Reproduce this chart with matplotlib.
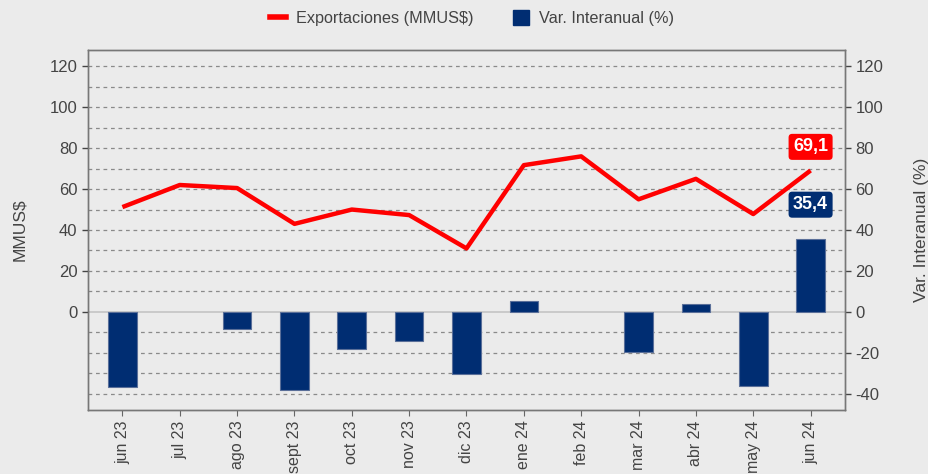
import numpy as np
import matplotlib
matplotlib.use("Agg")
from matplotlib import pyplot as plt
from matplotlib.lines import Line2D
from matplotlib.patches import Patch

months = ["jun 23", "jul 23", "ago 23", "sept 23", "oct 23", "nov 23", "dic 23",
          "ene 24", "feb 24", "mar 24", "abr 24", "may 24", "jun 24"]
exports = [51.2, 62.0, 60.5, 43.0, 50.0, 47.3, 31.0, 71.7, 76.0, 55.0, 65.0, 47.8, 69.1]
# jul 23 and feb 24 have no bar in the chart
var_yoy = [-36.6, np.nan, -8.3, -38.2, -18.0, -14.1, -30.6, 5.4, np.nan, -19.5, 4.0, -36.3, 35.4]

red = "#ff0000"
navy = "#002d72"
bg = "#ebebeb"
txt = "#444444"

plt.rcParams['font.family'] = ['Liberation Sans', 'DejaVu Sans']
plt.rcParams['axes.unicode_minus'] = False

fig = plt.figure(figsize=(9.29, 4.74), dpi=100, facecolor=bg)
ax_bar = fig.add_axes([88 / 929, 64 / 474, 757 / 929, 360 / 474])
ax_line = ax_bar.twinx()
ax_bar.set_facecolor(bg)

x = np.arange(len(months))
ylo, yhi = -48, 128

# bars on the right axis (behind)
ax_bar.bar(x, var_yoy, width=0.5, color=navy, edgecolor="#5a6f99", linewidth=0.8, zorder=3)
ax_bar.set_ylim(ylo, yhi)
ax_bar.set_xlim(-0.6, len(months) - 0.4)
for v in np.arange(-40, 130, 10):
    if v == 0:
        ax_bar.axhline(0, color="#c4c4c4", lw=1.2, zorder=2)
    else:
        ax_bar.axhline(v, color="#8a8a8a", lw=0.9, ls=(0, (3, 3)), zorder=1)

# line on the left axis (front)
ax_line.plot(x, exports, color=red, lw=3.2, zorder=4, solid_capstyle="butt")
ax_line.set_ylim(ylo, yhi)

ax_line.set_zorder(ax_bar.get_zorder() + 1)
ax_line.patch.set_visible(False)
ax_line.yaxis.tick_left()
ax_line.yaxis.set_label_position("left")
ax_bar.yaxis.tick_right()
ax_bar.yaxis.set_label_position("right")

ax_line.set_yticks(np.arange(0, 121, 20))
ax_bar.set_yticks(np.arange(-40, 121, 20))
ax_line.set_ylabel("MMUS$", color=txt, fontsize=12.5, labelpad=16)
ax_bar.set_ylabel("Var. Interanual (%)", color=txt, fontsize=12.5, labelpad=22)

ax_bar.set_xticks(x)
ax_bar.set_xticklabels(months, rotation=90, fontsize=11.5)

for a in (ax_bar, ax_line):
    a.tick_params(axis="y", colors=txt, labelsize=12, length=4, width=1)
    a.tick_params(axis="x", colors="#666666", length=4)
    for s in a.spines.values():
        s.set_color("#777777")
        s.set_linewidth(1)
for lbl in ax_bar.get_xticklabels():
    lbl.set_color(txt)

ax_line.annotate("69,1", (x[-1], exports[-1]), xytext=(0, 17), textcoords="offset points",
                 ha="center", va="center", color="white", fontsize=13, fontweight="bold",
                 bbox=dict(boxstyle="round,pad=0.25,rounding_size=0.2", fc=red, ec="none"), zorder=6)
ax_line.annotate("35,4", (x[-1], var_yoy[-1]), xytext=(0, 25), textcoords="offset points",
                 ha="center", va="center", color="white", fontsize=13, fontweight="bold",
                 bbox=dict(boxstyle="round,pad=0.25,rounding_size=0.2", fc=navy, ec="none"), zorder=6)

handles = [Line2D([0], [0], color=red, lw=4),
           Patch(facecolor=navy, edgecolor=navy)]
fig.legend(handles, ["Exportaciones (MMUS$)", "Var. Interanual (%)"], loc="center",
           bbox_to_anchor=(0.508, 0.962), ncol=2, frameon=False, fontsize=11.7,
           labelcolor=txt, handlelength=1.0, handleheight=1.1, columnspacing=2.4, handletextpad=0.6)

fig.savefig("out.png", dpi=100, facecolor=bg)
